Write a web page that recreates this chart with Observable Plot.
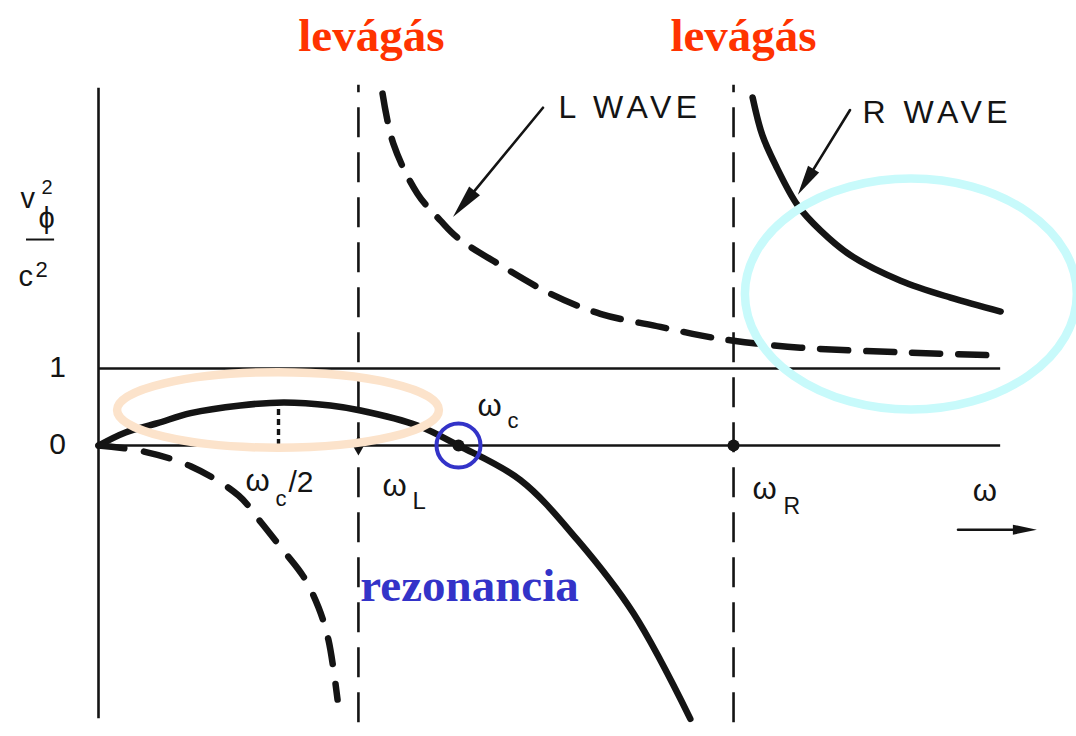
<!DOCTYPE html>
<html>
<head>
<meta charset="utf-8">
<script src="https://cdn.jsdelivr.net/npm/d3@7"></script>
<script src="https://cdn.jsdelivr.net/npm/@observablehq/plot@0.6"></script>
<style>
  body { margin: 0; background: #fff; }
  svg { display: block; }
</style>
</head>
<body>
<div id="chart"></div>
<script>
// Characteristic frequencies, in units of the cyclotron frequency ω_c
const omegaC = 1.0;
const omegaL = 0.722;
const omegaR = 1.764;
const omegaMax = 2.506;

// v_φ²/c² along each branch (ω values and matching v²/c² values)
const lowerSolidOmega = [0, 0.075, 0.164, 0.256, 0.394, 0.514, 0.644, 0.728, 0.886, 1.0, 1.172, 1.331, 1.486, 1.644];
const lowerSolidV     = [0, 0.17, 0.29, 0.42, 0.52, 0.56, 0.52, 0.455, 0.26, 0, -0.45, -1.23, -2.18, -3.55];

const lowerDashedOmega = [0, 0.117, 0.256, 0.389, 0.45, 0.511, 0.569, 0.611, 0.639, 0.664];
const lowerDashedV     = [0, -0.07, -0.27, -0.65, -0.99, -1.35, -1.7, -2.1, -2.53, -3.3];

const lWaveOmega = [0.789, 0.819, 0.886, 0.95, 0.997, 1.117, 1.256, 1.394, 1.561, 1.672, 1.764, 1.95, 2.228, 2.5];
const lWaveV     = [4.57, 3.92, 3.27, 2.92, 2.70, 2.34, 1.97, 1.71, 1.54, 1.43, 1.36, 1.27, 1.21, 1.17];

const rWaveOmega = [1.817, 1.844, 1.881, 1.942, 2.006, 2.089, 2.228, 2.367, 2.506];
const rWaveV     = [4.52, 4.03, 3.64, 3.12, 2.79, 2.47, 2.14, 1.92, 1.74];

// Tick labels on the vertical axis
const yTickValues = [0, 1];
const yTickLabels = ["0", "1"];

const peakV = 0.56; // maximum of the lower branch, at ω_c/2

const toRows = (omega, v) => omega.map((w, i) => ({omega: w, v: v[i]}));
const lowerSolid = toRows(lowerSolidOmega, lowerSolidV);
const lowerDashed = toRows(lowerDashedOmega, lowerDashedV);
const lWave = toRows(lWaveOmega, lWaveV);
const rWave = toRows(rWaveOmega, rWaveV);

const ink = "#141414";
const sans = "Liberation Sans, Helvetica, Arial, sans-serif";
const serif = "Liberation Serif, Times New Roman, serif";

// small helper for annotation text anchored at a data position
const label = (text, x, y, o = {}) =>
  Plot.text([text], {x, y, text: d => d, lineAnchor: "bottom", textAnchor: "start",
    fill: ink, fontFamily: sans, fontSize: 31, ...o});

const chart = Plot.plot({
  width: 1076,
  height: 736,
  margin: 0,
  x: {domain: [-98 / 360, 978 / 360], axis: null},
  y: {domain: [-291 / 77, 445 / 77], axis: null},
  style: {background: "#fff", fontFamily: sans},
  marks: [
    // vertical axis and the reference lines v²/c² = 0 and 1
    Plot.ruleX([0], {y1: -3.55, y2: 4.64, stroke: ink, strokeWidth: 2.6}),
    Plot.ruleY(yTickValues, {x1: 0, x2: omegaMax, stroke: ink, strokeWidth: 2.6}),

    // cutoff frequencies
    Plot.ruleX([omegaL, omegaR], {y1: -3.6, y2: 4.68, stroke: ink, strokeWidth: 2.6, strokeDasharray: "30,15"}),

    // ω_c/2 marker below the maximum
    Plot.ruleX([omegaC / 2], {y1: 0, y2: peakV, stroke: ink, strokeWidth: 3.4, strokeDasharray: "6,4"}),

    // branches
    Plot.line(lowerSolid, {x: "omega", y: "v", curve: "catmull-rom", stroke: ink, strokeWidth: 6.5, strokeLinecap: "round"}),
    Plot.line(rWave, {x: "omega", y: "v", curve: "catmull-rom", stroke: ink, strokeWidth: 6.5, strokeLinecap: "round"}),
    Plot.line(lowerDashed, {x: "omega", y: "v", curve: "catmull-rom", stroke: ink, strokeWidth: 6.5, strokeLinecap: "round", strokeDasharray: "26,20"}),
    Plot.line(lWave, {x: "omega", y: "v", curve: "catmull-rom", stroke: ink, strokeWidth: 6.5, strokeLinecap: "round", strokeDasharray: "28,18"}),

    // points on the ω axis
    Plot.dot([omegaC, omegaR], {x: d => d, y: 0, r: 6, fill: ink}),
    Plot.dot([omegaL], {x: d => d, y: 0, r: 6, symbol: "diamond", fill: ink}),

    // resonance marker
    Plot.dot([omegaC], {x: d => d, y: 0, r: 22, fill: "none", stroke: "#3333c8", strokeWidth: 4}),

    // tick labels
    Plot.text(yTickValues, {x: 0, y: d => d, text: (d, i) => yTickLabels[i], textAnchor: "middle", lineAnchor: "bottom",
      dx: -41, dy: 8, fontSize: 30, fill: ink, fontFamily: sans}),

    // axis title v_φ² / c²
    label("v", -0.2, 2.675, {dx: -6, dy: -32, fontSize: 29}),
    label("2", -0.2, 2.675, {dx: 15, dy: -46, fontSize: 20}),
    label("ϕ", -0.2, 2.675, {dx: 12, dy: -12, fontSize: 29}),
    Plot.ruleY([2.675], {x1: -0.2, x2: -0.122, stroke: ink, strokeWidth: 2}),
    label("c", -0.2, 2.675, {dx: -8, dy: 46, fontSize: 29}),
    label("2", -0.2, 2.675, {dx: 9, dy: 37, fontSize: 22}),

    // frequency labels
    label("ω", omegaC / 2, 0, {dx: -33, dy: 45}),
    label("c", omegaC / 2, 0, {dx: -3, dy: 60, fontSize: 22}),
    label("/2", omegaC / 2, 0, {dx: 10, dy: 46, fontSize: 30}),
    label("ω", omegaL, 0, {dx: 24, dy: 50}),
    label("L", omegaL, 0, {dx: 54, dy: 63, fontSize: 24}),
    label("ω", omegaC, 0, {dx: 19, dy: -30}),
    label("c", omegaC, 0, {dx: 49, dy: -18, fontSize: 22}),
    label("ω", omegaR, 0, {dx: 19, dy: 53}),
    label("R", omegaR, 0, {dx: 50, dy: 68, fontSize: 23}),
    label("ω", omegaMax, 0, {dx: -28, dy: 55}),

    // wave names
    label("L WAVE", 1.236, 4.38, {dx: 15, dy: 10, fontSize: 32}),
    label("R WAVE", 2.089, 4.35, {dx: 12, dy: 12, fontSize: 32}),

    // Hungarian annotations
    Plot.text(["levágás"], {x: omegaL, frameAnchor: "top", text: d => d, dx: 13, dy: 50, lineAnchor: "bottom",
      fill: "#ff3300", fontFamily: serif, fontWeight: "bold", fontSize: 47}),
    Plot.text(["levágás"], {x: omegaR, frameAnchor: "top", text: d => d, dx: 10, dy: 50, lineAnchor: "bottom",
      fill: "#ff3300", fontFamily: serif, fontWeight: "bold", fontSize: 47}),
    Plot.text(["rezonancia"], {x: omegaC, y: 0, text: d => d, dx: 11, dy: 155, lineAnchor: "bottom",
      fill: "#3333c8", fontFamily: serif, fontWeight: "bold", fontSize: 47})
  ]
});

document.getElementById("chart").append(chart);

// letter spacing for the wave names
d3.select(chart).selectAll("text")
  .filter(function () { return /WAVE/.test(this.textContent); })
  .style("letter-spacing", "4.5px");

// overlay: pointer arrows and highlight ellipses, positioned through the plot's scales
const xs = chart.scale("x"), ys = chart.scale("y");
const X = d3.scaleLinear(xs.domain, xs.range);
const Y = d3.scaleLinear(ys.domain, ys.range);
const overlay = d3.select(chart).append("g");

function arrow([x1, y1], [x2, y2], headLen, headW, width) {
  const ax = X(x1), ay = Y(y1), bx = X(x2), by = Y(y2);
  const L = Math.hypot(bx - ax, by - ay), ux = (bx - ax) / L, uy = (by - ay) / L;
  const hx = bx - ux * headLen, hy = by - uy * headLen;
  overlay.append("line")
    .attr("x1", ax).attr("y1", ay).attr("x2", hx + ux * 2).attr("y2", hy + uy * 2)
    .attr("stroke", ink).attr("stroke-width", width).attr("stroke-linecap", "round");
  overlay.append("path")
    .attr("d", `M${bx},${by}L${hx - uy * headW / 2},${hy + ux * headW / 2}L${hx + uy * headW / 2},${hy - ux * headW / 2}Z`)
    .attr("fill", ink);
}

arrow([1.236, 4.38], [0.986, 2.96], 34, 14, 2.6);
arrow([2.089, 4.35], [1.944, 3.25], 30, 13, 2.6);
arrow([2.389, -1.10], [2.608, -1.10], 24, 10, 2.6);

function ellipse(cx, cy, rw, rh, color) {
  overlay.append("ellipse")
    .attr("cx", X(cx)).attr("cy", Y(cy))
    .attr("rx", X(cx + rw) - X(cx)).attr("ry", Y(cy) - Y(cy + rh))
    .attr("fill", "none").attr("stroke", color).attr("stroke-width", 8.5);
}

ellipse(omegaC / 2, 0.455, 0.447, 0.49, "#fce3cb");
ellipse(2.258, 1.96, 0.461, 1.5, "#c8fafb");
</script>
</body>
</html>
